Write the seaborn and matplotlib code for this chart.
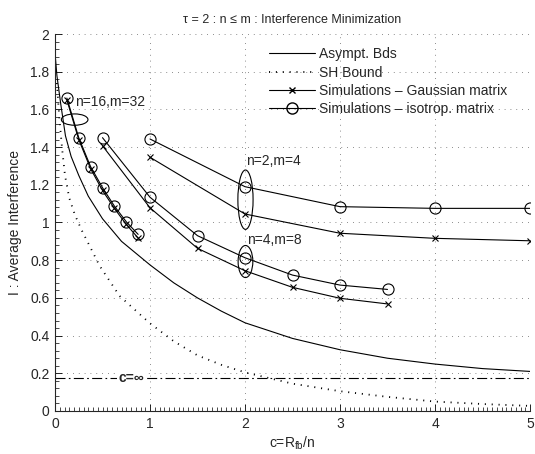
import numpy as np
import pandas as pd
import matplotlib
matplotlib.use("Agg")
import matplotlib.pyplot as plt
from matplotlib.lines import Line2D
from matplotlib.patches import Ellipse
from matplotlib.ticker import MultipleLocator
import seaborn as sns

# asymptotic bound
asym_c = [0.0, 0.02, 0.06, 0.11, 0.17, 0.25, 0.35, 0.5, 0.7, 1.0, 1.25, 1.5,
          1.75, 2.0, 2.5, 3.0, 3.5, 4.0, 4.5, 5.0]
asym_i = [1.9, 1.78, 1.63, 1.46, 1.35, 1.25, 1.14, 1.02, 0.9, 0.775, 0.68, 0.6,
          0.53, 0.468, 0.385, 0.325, 0.28, 0.249, 0.225, 0.21]

# SH bound
sh_c = [0.02, 0.045, 0.075, 0.105, 0.15, 0.21, 0.28, 0.39, 0.47, 0.68, 0.9, 1.0,
        1.25, 1.5, 1.75, 2.0, 2.5, 3.0, 3.5, 4.0, 4.5, 5.0]
sh_i = [1.74, 1.56, 1.39, 1.25, 1.13, 1.04, 0.96, 0.85, 0.77, 0.61, 0.51, 0.465,
        0.37, 0.295, 0.245, 0.205, 0.145, 0.105, 0.075, 0.05, 0.037, 0.027]

c_inf = 0.173

# simulations
c16 = [0.125, 0.25, 0.375, 0.5, 0.625, 0.75, 0.875]
gauss16 = [1.65, 1.44, 1.285, 1.17, 1.075, 0.99, 0.918]
iso16 = [1.66, 1.45, 1.296, 1.185, 1.087, 1.004, 0.937]

c4 = [0.5, 1.0, 1.5, 2.0, 2.5, 3.0, 3.5]
gauss4 = [1.407, 1.078, 0.863, 0.744, 0.656, 0.598, 0.568]
iso4 = [1.45, 1.134, 0.93, 0.813, 0.721, 0.668, 0.645]

c2 = [1, 2, 3, 4, 5]
gauss2 = [1.346, 1.045, 0.943, 0.916, 0.903]
iso2 = [1.443, 1.19, 1.084, 1.075, 1.075]

sns.set_style("ticks")
plt.rcParams['font.family'] = ['Liberation Sans', 'DejaVu Sans']
plt.rcParams['mathtext.fontset'] = 'custom'
plt.rcParams['mathtext.rm'] = 'Liberation Sans'
plt.rcParams['mathtext.it'] = 'Liberation Sans'

fig = plt.figure(figsize=(5.35, 4.54), dpi=100)
ax = fig.add_axes([55 / 535, 43 / 454, 475 / 535, 377 / 454])

lw = 0.8
sns.lineplot(x=asym_c, y=asym_i, ax=ax, color='k', lw=lw, sort=False)
sns.lineplot(x=sh_c, y=sh_i, ax=ax, color='k', lw=1.3, linestyle=(0, (0.6, 3.2)), sort=False)
ax.axhline(c_inf, color='k', lw=lw, linestyle=(0, (9, 3, 1.5, 3)))

sims = [(c16, gauss16, iso16), (c4, gauss4, iso4), (c2, gauss2, iso2)]
for cc, g, s in sims:
    sns.lineplot(x=cc, y=g, ax=ax, color='k', lw=lw, marker='x', markersize=5,
                 markeredgecolor='k', markeredgewidth=0.8, sort=False)
    sns.lineplot(x=cc, y=s, ax=ax, color='k', lw=lw, marker='o', markersize=8,
                 markerfacecolor='none', markeredgecolor='k', markeredgewidth=0.8, sort=False)

# ellipses + labels
notes = [((0.207, 1.546), 0.28, 0.06, 'n=16,m=32', (0.215, 1.64)),
         ((2.005, 1.121), 0.16, 0.315, 'n=2,m=4', (2.01, 1.326)),
         ((2.005, 0.793), 0.155, 0.17, 'n=4,m=8', (2.02, 0.907))]
for cen, w, h, txt, pos in notes:
    ax.add_patch(Ellipse(cen, w, h, fill=False, color='k', lw=lw))
    ax.text(pos[0], pos[1], txt, fontsize=10, ha='left', va='center')

ax.text(0.8, c_inf, 'c=∞', fontsize=10, fontweight='bold', ha='center', va='center',
        bbox=dict(facecolor='white', edgecolor='none', pad=0.5))

ax.set_xlim(0, 5)
ax.set_ylim(0, 2)
ax.xaxis.set_major_locator(MultipleLocator(1))
ax.yaxis.set_major_locator(MultipleLocator(0.2))
ax.xaxis.set_minor_locator(MultipleLocator(0.05))
ax.yaxis.set_minor_locator(MultipleLocator(0.04))
ax.yaxis.set_major_formatter(plt.FuncFormatter(lambda v, p: f'{v:g}'))
ax.tick_params(which='both', direction='in', labelsize=10, width=0.6, color='k')
ax.tick_params(which='major', length=5, pad=4)
ax.tick_params(which='minor', length=3, width=0.5)
ax.grid(True, which='major', color='k', lw=0.6, linestyle=(0, (1, 6)), alpha=0.6)
for sp in ['top', 'right']:
    ax.spines[sp].set_visible(False)
for sp in ['left', 'bottom']:
    ax.spines[sp].set_linewidth(0.8)

ax.set_title('τ = 2 : n ≤ m : Interference Minimization', fontsize=9, pad=8)
ax.set_xlabel(r'c=R$_{\mathrm{fb}}$/n', fontsize=10, labelpad=3)
ax.set_ylabel('I : Average Interference', fontsize=10, labelpad=6)

handles = [Line2D([], [], color='k', lw=lw),
           Line2D([], [], color='k', lw=1.3, linestyle=(0, (0.6, 3.2))),
           Line2D([], [], color='k', lw=lw, marker='x', markersize=5),
           Line2D([], [], color='k', lw=lw, marker='o', markersize=8, markerfacecolor='none')]
labels = ['Asympt. Bds', 'SH Bound', 'Simulations – Gaussian matrix',
          'Simulations – isotrop. matrix']
ax.legend(handles, labels, loc='upper left', bbox_to_anchor=(0.445, 0.972), frameon=False,
          fontsize=10, handlelength=3.3, handletextpad=0.3, labelspacing=0.3,
          borderaxespad=0, borderpad=0.2)

fig.savefig('out.png', dpi=100)
